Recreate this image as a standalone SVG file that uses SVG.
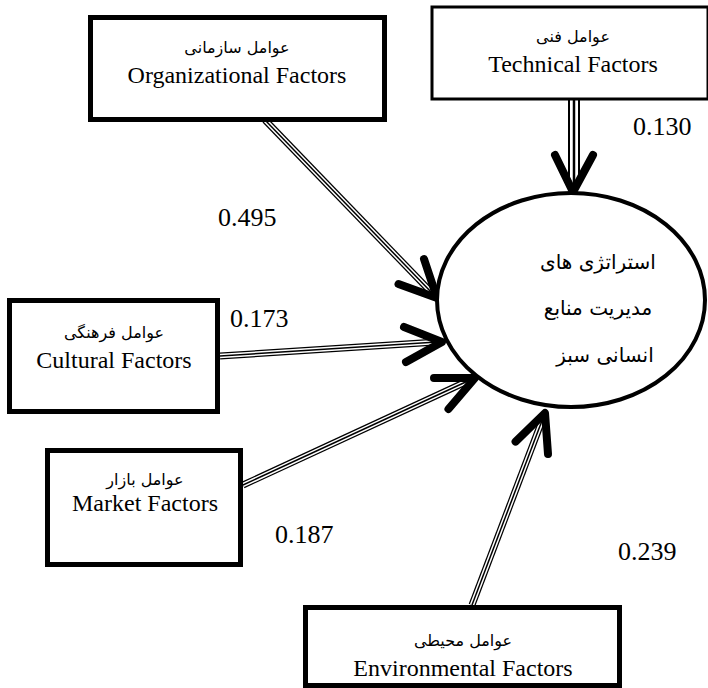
<svg xmlns="http://www.w3.org/2000/svg" width="708" height="688" viewBox="0 0 708 688">
<style>
.box{fill:#fff;stroke:#000;stroke-width:5}
.thin{stroke-width:3}
.en{font-family:"Liberation Serif","Times New Roman",serif;font-size:24px;fill:#000;text-anchor:middle}
.num{font-family:"Liberation Serif","Times New Roman",serif;font-size:26px;fill:#000}
.ar{font-family:"DejaVu Sans",sans-serif;font-size:16px;fill:#000;text-anchor:middle}
.arb{font-family:"DejaVu Sans",sans-serif;font-size:20px;fill:#000;text-anchor:middle}
.l1{fill:none;stroke:#000;stroke-width:7}
.l2{fill:none;stroke:#fff;stroke-width:4.5}
.l3{fill:none;stroke:#000;stroke-width:1.5}
.head{fill:none;stroke:#000;stroke-width:8;stroke-linecap:round;stroke-linejoin:round}
</style>
<rect width="708" height="688" fill="#fff"/>
<g id="connectors">
  <g id="c-org">
    <path class="l1" d="M265 120 L433 294"/><path class="l2" d="M265 120 L433 294"/><path class="l3" d="M265 120 L433 294"/>
    <polyline class="head" points="424,259 437,298 398.5,284"/>
  </g>
  <g id="c-tech">
    <path class="l1" d="M574 99 L574 186" style="stroke-width:12"/><path class="l2" d="M574 99 L574 186" style="stroke-width:8"/><path class="l3" d="M574 99 L574 186" style="stroke-width:2.5"/>
    <polyline class="head" points="555,155 573,192 593,155"/>
  </g>
  <g id="c-cult">
    <path class="l1" d="M220 356 L437 342"/><path class="l2" d="M220 356 L437 342"/><path class="l3" d="M220 356 L437 342"/>
    <polyline class="head" points="404,327 442,342 406,362"/>
  </g>
  <g id="c-market">
    <path class="l1" d="M243 485 L470 380"/><path class="l2" d="M243 485 L470 380"/><path class="l3" d="M243 485 L470 380"/>
    <polyline class="head" points="434,378 475,378 448.5,409"/>
  </g>
  <g id="c-env">
    <path class="l1" d="M472 605 L543 418"/><path class="l2" d="M472 605 L543 418"/><path class="l3" d="M472 605 L543 418"/>
    <polyline class="head" points="515.6,441.6 545,413 548,454"/>
  </g>
</g>
<g id="n-org">
  <rect class="box" x="90.5" y="17.5" width="294" height="102"/>
  <text class="ar" x="237" y="53">عوامل سازمانی</text>
  <text class="en" x="237" y="83">Organizational Factors</text>
</g>
<g id="n-tech">
  <rect class="box thin" x="432" y="7" width="276" height="92"/>
  <text class="ar" x="573" y="42">عوامل فنی</text>
  <text class="en" x="573" y="72">Technical Factors</text>
</g>
<g id="n-cult">
  <rect class="box" x="9.5" y="300.5" width="208" height="111"/>
  <text class="ar" x="114" y="338">عوامل فرهنگی</text>
  <text class="en" x="114" y="368">Cultural Factors</text>
</g>
<g id="n-market">
  <rect class="box" x="47.5" y="450.5" width="193" height="114"/>
  <text class="ar" x="145" y="485">عوامل بازار</text>
  <text class="en" x="145" y="511">Market Factors</text>
</g>
<g id="n-env">
  <rect class="box" x="305.5" y="607.5" width="314" height="78"/>
  <text class="ar" x="463" y="646">عوامل محیطی</text>
  <text class="en" x="463" y="676">Environmental Factors</text>
</g>
<g id="n-center">
  <ellipse cx="571" cy="300" rx="134" ry="107" fill="#fff" stroke="#000" stroke-width="4"/>
  <text class="arb" x="598" y="269">استراتژی های</text>
  <text class="arb" x="598" y="315">مدیریت منابع</text>
  <text class="arb" x="605" y="362">انسانی سبز</text>
</g>
<g id="labels">
  <text class="num" x="218" y="226">0.495</text>
  <text class="num" x="230" y="327">0.173</text>
  <text class="num" x="633" y="135">0.130</text>
  <text class="num" x="275" y="543">0.187</text>
  <text class="num" x="618" y="560">0.239</text>
</g>
</svg>
